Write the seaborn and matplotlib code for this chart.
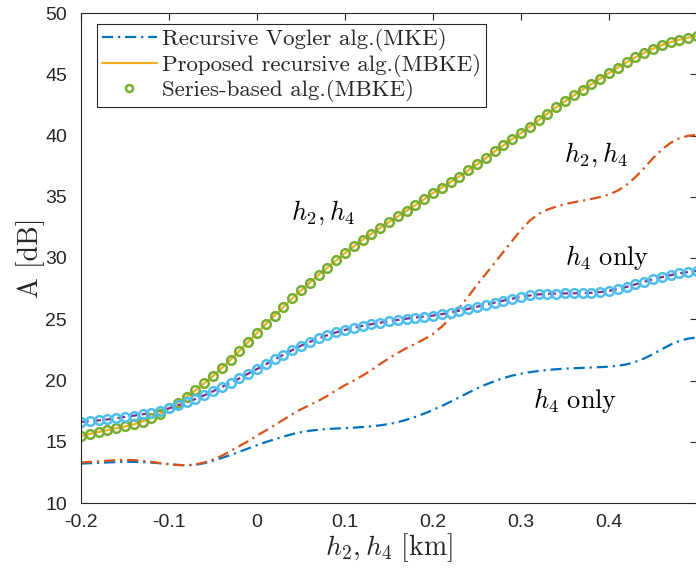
import numpy as np
import pandas as pd
import matplotlib
matplotlib.use("Agg")
import matplotlib.pyplot as plt
import seaborn as sns
from matplotlib.lines import Line2D

# ---------------- data ----------------
h = [round(-0.20 + 0.01 * i, 2) for i in range(71)]

mke_h4 = [13.22, 13.25, 13.28, 13.31, 13.34, 13.36, 13.36, 13.34, 13.30, 13.24,
          13.17, 13.11, 13.08, 13.12, 13.25, 13.45, 13.68, 13.92, 14.18, 14.45,
          14.72, 14.97, 15.20, 15.42, 15.62, 15.78, 15.90, 15.98, 16.04, 16.08,
          16.11, 16.15, 16.20, 16.26, 16.34, 16.45, 16.60, 16.80, 17.03, 17.30,
          17.60, 17.92, 18.27, 18.63, 19.00, 19.35, 19.67, 19.95, 20.20, 20.40,
          20.56, 20.68, 20.78, 20.86, 20.92, 20.97, 21.00, 21.03, 21.06, 21.09,
          21.13, 21.20, 21.32, 21.52, 21.80, 22.15, 22.55, 22.93, 23.23, 23.42,
          23.52]

mke_h2h4 = [13.30, 13.35, 13.40, 13.45, 13.50, 13.52, 13.50, 13.44, 13.36, 13.26,
            13.17, 13.10, 13.08, 13.15, 13.30, 13.55, 13.85, 14.25, 14.65, 15.05,
            15.50, 15.92, 16.35, 16.80, 17.25, 17.65, 18.00, 18.35, 18.75, 19.20,
            19.62, 20.00, 20.40, 20.85, 21.35, 21.82, 22.25, 22.65, 23.00, 23.38,
            23.80, 24.40, 25.10, 25.95, 26.85, 27.80, 28.70, 29.60, 30.50, 31.40,
            32.30, 33.05, 33.60, 33.95, 34.20, 34.40, 34.55, 34.68, 34.82, 34.98,
            35.18, 35.50, 35.98, 36.60, 37.35, 38.15, 38.85, 39.40, 39.78, 39.98,
            40.05]

mbke_h2h4 = [15.45, 15.65, 15.80, 15.95, 16.10, 16.25, 16.42, 16.65, 16.95, 17.30,
             17.72, 18.18, 18.66, 19.20, 19.78, 20.38, 21.02, 21.70, 22.42, 23.15,
             23.88, 24.60, 25.30, 26.00, 26.70, 27.35, 28.00, 28.62, 29.22, 29.80,
             30.40, 30.95, 31.48, 31.98, 32.46, 32.94, 33.40, 33.86, 34.32, 34.80,
             35.30, 35.75, 36.20, 36.65, 37.15, 37.65, 38.15, 38.70, 39.20, 39.72,
             40.20, 40.72, 41.25, 41.78, 42.30, 42.80, 43.28, 43.75, 44.20, 44.65,
             45.10, 45.55, 45.98, 46.38, 46.75, 47.08, 47.38, 47.62, 47.82, 47.98,
             48.12]

mbke_h4 = [16.62, 16.68, 16.74, 16.82, 16.92, 17.03, 17.13, 17.24, 17.37, 17.54,
           17.73, 17.96, 18.21, 18.49, 18.79, 19.12, 19.47, 19.82, 20.17, 20.56,
           20.94, 21.32, 21.72, 22.10, 22.48, 22.84, 23.15, 23.44, 23.70, 23.93,
           24.13, 24.30, 24.46, 24.60, 24.72, 24.84, 24.95, 25.05, 25.14, 25.22,
           25.30, 25.42, 25.55, 25.70, 25.85, 26.02, 26.20, 26.36, 26.52, 26.68,
           26.82, 26.94, 27.03, 27.08, 27.10, 27.11, 27.12, 27.13, 27.16, 27.22,
           27.32, 27.46, 27.64, 27.85, 28.06, 28.26, 28.44, 28.60, 28.74, 28.86,
           28.95]

# series-based results coincide with the proposed recursive ones
series_h2h4 = list(mbke_h2h4)
series_h4 = list(mbke_h4)

xticks = [-0.2, -0.1, 0, 0.1, 0.2, 0.3, 0.4]
xticklabels = ["-0.2", "-0.1", "0", "0.1", "0.2", "0.3", "0.4"]
yticks = [10, 15, 20, 25, 30, 35, 40, 45, 50]

labels = ["Recursive Vogler alg.(MKE)",
          "Proposed recursive alg.(MBKE)",
          "Series-based alg.(MBKE)"]

# ---------------- style ----------------
sns.set_theme(style="white")
plt.rcParams["font.family"] = ["Liberation Sans", "DejaVu Sans"]
plt.rcParams["mathtext.fontset"] = "cm"

C_BLUE = "#0072BD"
C_RED = "#D95319"
C_YEL = "#EDB120"
C_PUR = "#7E2F8E"
C_GRN = "#77AC30"
C_CYA = "#4DBEEE"
AXC = "#262626"
DD = (0, (5, 2.2, 1, 2.2))

fig = plt.figure(figsize=(6.96, 5.70), dpi=100)
ax = fig.add_axes([81 / 696, 67 / 570, 616 / 696, 490 / 570])

df = pd.DataFrame({"h": h, "mke_h4": mke_h4, "mke_h2h4": mke_h2h4,
                   "mbke_h2h4": mbke_h2h4, "mbke_h4": mbke_h4,
                   "s_h2h4": series_h2h4, "s_h4": series_h4})

sns.lineplot(data=df, x="h", y="mke_h4", ax=ax, color=C_BLUE, lw=1.6,
             linestyle=DD)
sns.lineplot(data=df, x="h", y="mke_h2h4", ax=ax, color=C_RED, lw=1.6,
             linestyle=DD)
sns.lineplot(data=df, x="h", y="mbke_h2h4", ax=ax, color=C_YEL, lw=1.6)
sns.lineplot(data=df, x="h", y="mbke_h4", ax=ax, color=C_PUR, lw=1.6,
             linestyle=(0, (3.5, 2.0)))
sns.lineplot(data=df, x="h", y="s_h2h4", ax=ax, color=C_GRN, linestyle="",
             marker="o", markersize=6.2, markerfacecolor="none",
             markeredgecolor=C_GRN, markeredgewidth=1.8)
sns.lineplot(data=df, x="h", y="s_h4", ax=ax, color=C_CYA, linestyle="",
             marker="o", markersize=6.2, markerfacecolor="none",
             markeredgecolor=C_CYA, markeredgewidth=1.8)

ax.set_xlim(-0.2, 0.5)
ax.set_ylim(10, 50)
ax.set_xticks(xticks)
ax.set_xticklabels(xticklabels)
ax.set_yticks(yticks)
ax.tick_params(direction="in", length=5, width=0.8, colors=AXC,
               labelsize=14, top=True, right=True)
ax.tick_params(axis="x", pad=8)
ax.tick_params(axis="y", pad=10)
for s in ax.spines.values():
    s.set_color(AXC)
    s.set_linewidth(0.8)
    s.set_visible(True)

ax.set_xlabel(r"$h_2, h_4\ \mathrm{[km]}$", fontsize=20, color=AXC, labelpad=0)
ax.set_ylabel("A [dB]", fontsize=20, family="cmr10", color=AXC, labelpad=0)

tkw = dict(fontsize=19, color="black", ha="center", va="center")
ax.text(0.075, 33.7, r"$h_2, h_4$", **tkw)
ax.text(0.385, 38.4, r"$h_2, h_4$", **tkw)
ax.text(0.398, 30.0, r"$h_4\ \mathrm{only}$", **tkw)
ax.text(0.362, 18.4, r"$h_4\ \mathrm{only}$", **tkw)

handles = [
    Line2D([], [], color=C_BLUE, lw=1.6, linestyle=DD),
    Line2D([], [], color=C_YEL, lw=1.6),
    Line2D([], [], color=C_GRN, linestyle="", marker="o", markersize=5,
           markerfacecolor="none", markeredgecolor=C_GRN, markeredgewidth=1.8),
]
leg = ax.legend(handles, labels, loc="upper left",
                bbox_to_anchor=(0.026, 0.978), borderaxespad=0,
                prop={"family": "cmr10", "size": 16.5}, frameon=True,
                fancybox=False, handlelength=2.4, handletextpad=0.25,
                borderpad=0.2, labelspacing=0.1)
leg.get_frame().set_edgecolor(AXC)
leg.get_frame().set_linewidth(0.8)
leg.get_frame().set_alpha(1)

fig.savefig("out.png", dpi=100)
